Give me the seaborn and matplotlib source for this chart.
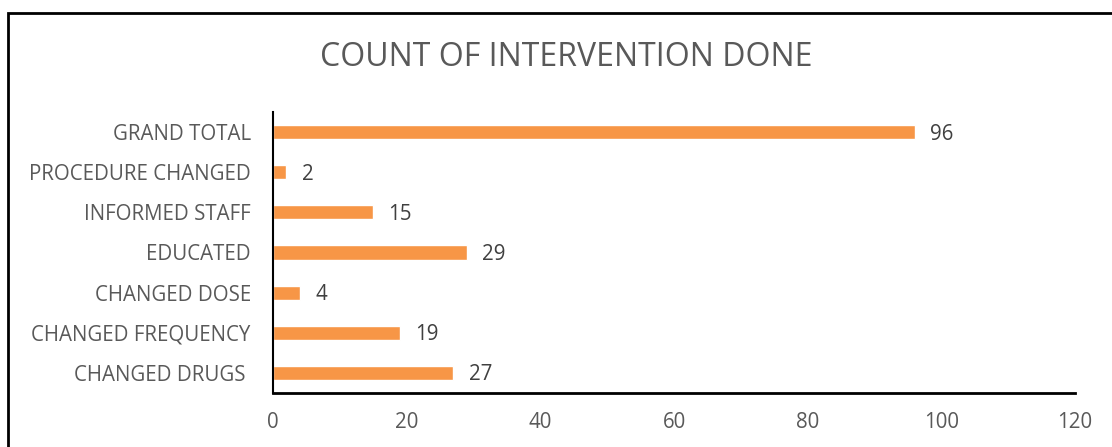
import matplotlib
matplotlib.use("Agg")
import matplotlib.pyplot as plt
import matplotlib.patches as mpatches
import seaborn as sns
import pandas as pd

categories = ["GRAND TOTAL", "PROCEDURE CHANGED", "INFORMED STAFF", "EDUCATED",
              "CHANGED DOSE", "CHANGED FREQUENCY", "CHANGED DRUGS "]
values = [96, 2, 15, 29, 4, 19, 27]
xticks = [0, 20, 40, 60, 80, 100, 120]
title = "COUNT OF INTERVENTION DONE"

sns.set_theme(style="white")
plt.rcParams['font.family'] = ['Open Sans', 'DejaVu Sans']

W, H = 1112, 447
fig = plt.figure(figsize=(W / 100, H / 100), dpi=100)
ax = fig.add_axes([273 / W, 1 - 393 / H, (1075 - 273) / W, (393 - 112) / H])

df = pd.DataFrame({"cat": categories, "val": values})
sns.barplot(data=df, y="cat", x="val", orient="h", color="#F79646", saturation=1,
            width=0.35, ax=ax)

grey = "#595959"
fs = 14.8
for i, v in enumerate(values):
    ax.text(v + 2.3, i + 0.05, str(v), va="center", ha="left", fontsize=fs, color="#404040")

ax.set_xlim(0, 120)
ax.set_ylim(6.5, -0.5)
ax.set_xticks(xticks)
ax.set_xticklabels([str(t) for t in xticks], fontsize=fs, color=grey)
ax.tick_params(axis="x", length=0, pad=14)
ax.tick_params(axis="y", length=0, pad=16, labelsize=fs, labelcolor=grey)
ax.set_xlabel("")
ax.set_ylabel("")
for s in ["top", "right"]:
    ax.spines[s].set_visible(False)
ax.spines["left"].set_color("black")
ax.spines["bottom"].set_color("black")
ax.spines["left"].set_linewidth(1.5)
ax.spines["bottom"].set_linewidth(2)

fig.text(566 / W, 1 - 58 / H, title, ha="center", va="center", fontsize=23, color=grey)

border = mpatches.Rectangle((8 / W, -0.1), 1.2, 1 - 13 / H + 0.1, transform=fig.transFigure,
                            fill=False, edgecolor="black", linewidth=2, clip_on=False)
fig.patches.append(border)

fig.savefig("out.png", dpi=100)
